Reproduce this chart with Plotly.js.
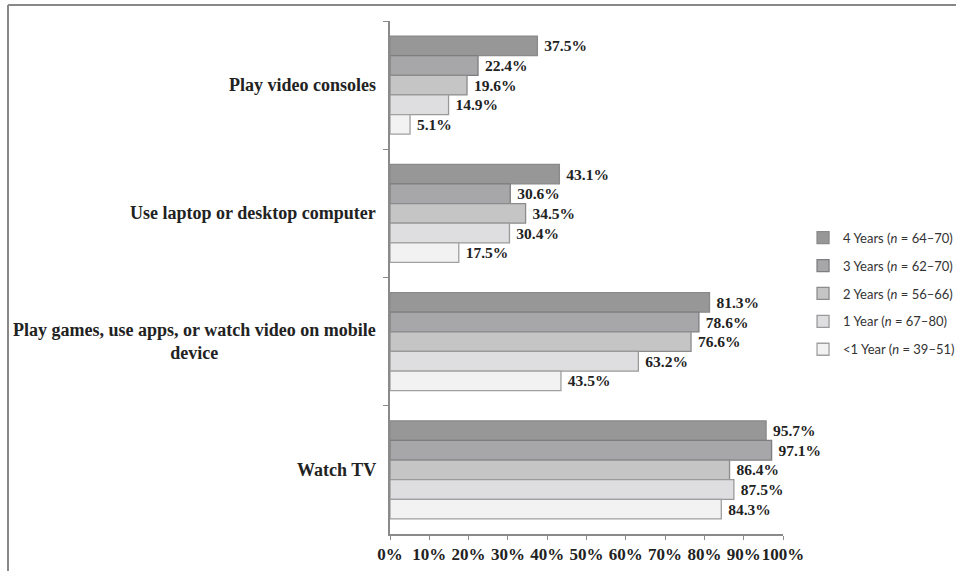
<!DOCTYPE html>
<html>
<head>
<meta charset="utf-8">
<script src="https://cdn.plot.ly/plotly-3.0.1.min.js"></script>
<style>html,body{margin:0;padding:0;background:#fff;}#chart{width:956px;height:571px;}</style>
</head>
<body>
<div id="chart"></div>
<script>
var categories = ["Play video consoles", "Use laptop or desktop computer", "Play games, use apps, or watch video on mobile<br>device", "Watch TV"];
var seriesNames = ["4 Years (<i>n</i> = 64–70)", "3 Years (<i>n</i> = 62–70)", "2 Years (<i>n</i> = 56–66)", "1 Year (<i>n</i> = 67–80)", "<1 Year (<i>n</i> = 39–51)"];
var years4 = [37.5, 43.1, 81.3, 95.7];
var years3 = [22.4, 30.6, 78.6, 97.1];
var years2 = [19.6, 34.5, 76.6, 86.4];
var year1 = [14.9, 30.4, 63.2, 87.5];
var yearLt1 = [5.1, 17.5, 43.5, 84.3];
var xTickVals = [0, 10, 20, 30, 40, 50, 60, 70, 80, 90, 100];

var seriesValues = [years4, years3, years2, year1, yearLt1];
var fills = ["#979797", "#a7a7a9", "#c5c5c5", "#dedee0", "#f2f2f2"];
var lines = ["#8a8a8a", "#7e7e80", "#8c8c8c", "#9a9a9a", "#a0a0a0"];

var traces = seriesValues.map(function (vals, i) {
  return {
    type: "bar",
    orientation: "h",
    name: seriesNames[i],
    x: vals,
    y: categories,
    legendgroup: "g" + i,
    marker: {color: fills[i], line: {color: lines[i], width: 1.3}},
    text: vals.map(function (v) { return "\u00a0<b>" + v.toFixed(1) + "%</b>"; }),
    textposition: "outside",
    cliponaxis: false,
    outsidetextfont: {family: "Liberation Serif", size: 15.5, color: "#222"},
    hoverinfo: "x+name"
  };
});

var annotations = categories.map(function (c) {
  return {
    text: "<b>" + c + "</b>",
    xref: "paper", yref: "y",
    x: 0, y: c,
    xanchor: "right", yanchor: "middle",
    xshift: -12,
    align: "center",
    showarrow: false,
    font: {family: "Liberation Serif", size: 18, color: "#222"}
  };
});

var layout = {
  width: 956, height: 571,
  margin: {l: 390, r: 173, t: 21, b: 37, autoexpand: false},
  paper_bgcolor: "#fff", plot_bgcolor: "#fff",
  barmode: "group",
  bargap: 0.235,
  bargroupgap: 0,
  showlegend: true,
  legend: {
    xref: "container", yref: "container",
    x: 0.84, xanchor: "left", y: 0.61, yanchor: "top",
    traceorder: "grouped", tracegroupgap: 8,
    font: {family: "Lato", size: 13, color: "#333"},
    itemwidth: 30
  },
  xaxis: {
    range: [0, 100],
    tickvals: xTickVals,
    ticktext: xTickVals.map(function (v) { return "<b>" + v + "%</b>"; }),
    tickangle: 0,
    showgrid: false, zeroline: false,
    showline: true, linecolor: "#8a8a8a", linewidth: 2,
    ticks: "outside", ticklen: 4, tickcolor: "#8a8a8a", tickwidth: 1,
    tickfont: {family: "Liberation Serif", size: 17, color: "#222"},
    fixedrange: true
  },
  yaxis: {
    type: "category",
    autorange: "reversed",
    showticklabels: false,
    tickson: "boundaries",
    ticks: "outside", ticklen: 5, tickcolor: "#8a8a8a", tickwidth: 1,
    showgrid: false, zeroline: false,
    showline: true, linecolor: "#8a8a8a", linewidth: 2,
    fixedrange: true
  },
  annotations: annotations,
  shapes: [
    {type: "line", xref: "paper", yref: "paper", x0: -0.972, x1: -0.972, y0: 1.031, y1: -0.2, line: {color: "#888", width: 2}},
    {type: "line", xref: "paper", yref: "paper", x0: -0.972, x1: 1.5, y0: 1.031, y1: 1.031, line: {color: "#888", width: 2}}
  ]
};

Plotly.newPlot("chart", traces, layout, {displayModeBar: false, staticPlot: true});
</script>
</body>
</html>
